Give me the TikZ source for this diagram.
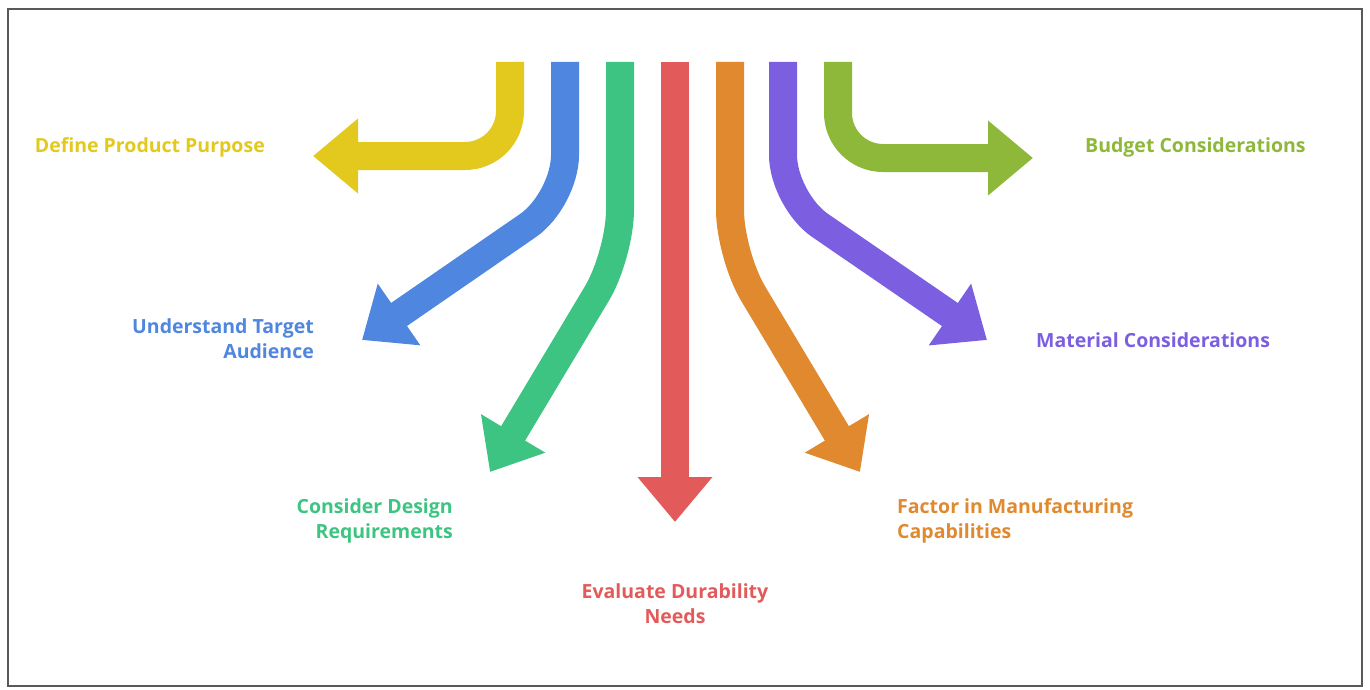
\documentclass[tikz,border=0pt]{standalone}
\usepackage{fontspec}
\setmainfont{Open Sans}
\usetikzlibrary{arrows.meta}
\definecolor{cYellow}{HTML}{E3C81E}
\definecolor{cBlue}{HTML}{4F86E0}
\definecolor{cGreen}{HTML}{3EC482}
\definecolor{cRed}{HTML}{E35A5A}
\definecolor{cOrange}{HTML}{E0892F}
\definecolor{cPurple}{HTML}{7B5FE0}
\definecolor{cLime}{HTML}{8DB83A}
\tikzset{
  band/.style={line width=28pt, rounded corners=45pt,
    -{Triangle[length=45pt,width=72pt]}},
  lbl/.style={font=\fontsize{19.5}{25}\selectfont\bfseries, inner sep=0pt}
}
\begin{document}
\begin{tikzpicture}[x=1pt,y=-1pt]
\useasboundingbox (0,0) rectangle (1370,690);
\draw[gray!70!black, line width=1.5pt] (8,9) rectangle (1362,686);

%STARTPUNKTE
\coordinate (s1) at (510,62);
\coordinate (s2) at (565,62);
\coordinate (s3) at (620,62);
\coordinate (s4) at (675,62);
\coordinate (s5) at (730,62);
\coordinate (s6) at (783,62);
\coordinate (s7) at (838,62);

%ENDPUNKTE
\coordinate (e1) at (313,156);
\coordinate (e3) at (490,472);
\coordinate (e4) at (675,522);
\coordinate (e5) at (860,472);
\coordinate (e7) at (1033,158);
\coordinate (e2) at (362,340);
\coordinate (e6) at (987,340);

%BAENDER
\draw[band, cYellow] (s1) |- (e1);
\draw[band, cBlue] (s2) -- (565,200) -- (e2);
\draw[band, cGreen] (s3) -- (620,255) -- (e3);
\draw[band, cRed] (s4) -- (e4);
\draw[band, cOrange] (s5) -- (730,255) -- (e5);
\draw[band, cPurple] (s6) -- (783,200) -- (e6);
\draw[band, cLime] (s7) |- (e7);

%BESCHRIFTUNGEN
\node[lbl, cYellow, anchor=east] (purpose) at (265,147) {Define Product Purpose};
\node[lbl, cBlue, anchor=east, align=right] (audience) at (314,339) {Understand Target\\Audience};
\node[lbl, cGreen, anchor=east, align=right] (design) at (453,521) {Consider Design\\Requirements};
\node[lbl, cRed, align=center] (durability) at (675,604) {Evaluate Durability\\Needs};
\node[lbl, cOrange, anchor=west, align=left] (manufacturing) at (897,521) {Factor in Manufacturing\\Capabilities};
\node[lbl, cPurple, anchor=west] (material) at (1036,340) {Material Considerations};
\node[lbl, cLime, anchor=west] (budget) at (1085,147) {Budget Considerations};
\end{tikzpicture}
\end{document}
